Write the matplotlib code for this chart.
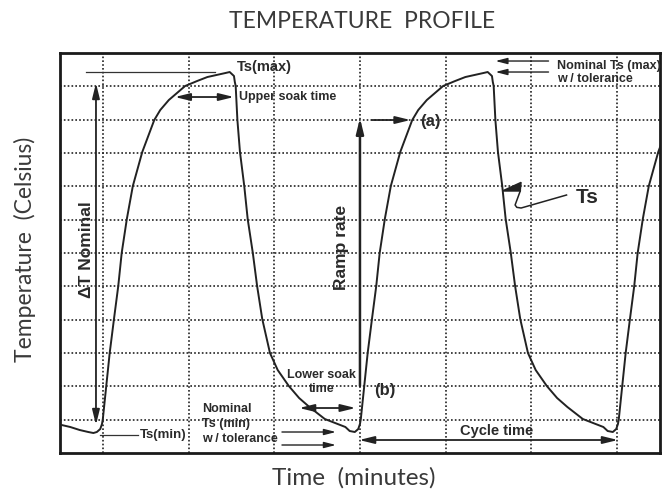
import matplotlib
matplotlib.use("Agg")
import matplotlib.pyplot as plt

# temperature profile (x and y in grid units)
time_pts = [0.02, 0.12, 0.23, 0.33, 0.39, 0.43, 0.47, 0.49, 0.50, 0.54, 0.58, 0.63,
            0.68, 0.72, 0.78, 0.85, 0.96, 1.10, 1.17, 1.27, 1.46, 1.60, 1.72, 1.93,
            1.98, 2.03, 2.04, 2.05, 2.07, 2.10, 2.15, 2.19, 2.25, 2.30, 2.36, 2.45,
            2.54, 2.67, 2.79, 2.91, 3.09, 3.33, 3.38,
            3.44, 3.48, 3.50, 3.51, 3.55, 3.59, 3.64, 3.69, 3.73, 3.79, 3.86, 3.97,
            4.11, 4.18, 4.28, 4.47, 4.61, 4.73, 4.94, 4.99, 5.04, 5.05, 5.06, 5.08,
            5.11, 5.16, 5.20, 5.26, 5.31, 5.37, 5.46, 5.55, 5.68, 5.80, 5.92, 6.10,
            6.34, 6.39,
            6.45, 6.49, 6.51, 6.52, 6.56, 6.60, 6.65, 6.70, 6.74, 6.80, 6.87, 6.98,
            7.12]
temp_pts = [0.84, 0.78, 0.69, 0.63, 0.60, 0.63, 0.72, 0.87, 1.02, 2.01, 3.00, 4.02,
            5.01, 6.00, 7.02, 8.01, 9.03, 9.99, 10.29, 10.59, 11.01, 11.16, 11.28, 11.40,
            11.43, 11.31, 11.13, 11.01, 9.99, 9.03, 8.01, 7.02, 6.00, 5.01, 4.02, 3.00,
            2.49, 2.01, 1.65, 1.38, 1.02, 0.78, 0.66,
            0.63, 0.72, 0.87, 1.02, 2.01, 3.00, 4.02, 5.01, 6.00, 7.02, 8.01, 9.03,
            9.99, 10.29, 10.59, 11.01, 11.16, 11.28, 11.40, 11.43, 11.31, 11.13, 11.01, 9.99,
            9.03, 8.01, 7.02, 6.00, 5.01, 4.02, 3.00, 2.49, 2.01, 1.65, 1.38, 1.02,
            0.78, 0.66,
            0.63, 0.72, 0.87, 1.02, 2.01, 3.00, 4.02, 5.01, 6.00, 7.02, 8.01, 9.03,
            9.99]

x_grid = [0.5, 1.5, 2.5, 3.5, 4.5, 5.5, 6.5]
y_grid = [1, 2, 3, 4, 5, 6, 7, 8, 9, 10, 11]

fig = plt.figure(figsize=(6.62, 4.90), dpi=100)
ax = fig.add_axes([0.0906, 0.0755, 0.9063, 0.8163])
ax.set_xlim(0, 7)
ax.set_ylim(0, 12)
ax.set_xticks(x_grid)
ax.set_yticks(y_grid)
ax.tick_params(length=0, labelbottom=False, labelleft=False)
ax.grid(True, color="#222222", linestyle=(0, (1, 1.3)), linewidth=1.2)
for s in ax.spines.values():
    s.set_linewidth(2)
    s.set_color("#1a1a1a")

ax.plot(time_pts, temp_pts, color="#222222", linewidth=1.4, zorder=3)

bold = dict(family="Liberation Sans", fontweight="bold", color="#2a2a2a")
arr1 = dict(arrowstyle="-|>,head_length=0.9,head_width=0.22", color="#222222",
            lw=1.3, shrinkA=0, shrinkB=0)
arr2 = dict(arrowstyle="<|-|>,head_length=0.9,head_width=0.22", color="#222222",
            lw=1.3, shrinkA=0, shrinkB=0)
arr3 = dict(arrowstyle="-|>,head_length=0.7,head_width=0.18", color="#222222",
            lw=1.0, shrinkA=0, shrinkB=0)

# Ts(max)
ax.plot([0.30, 1.81], [11.43, 11.43], color="#333333", lw=0.9)
ax.text(2.06, 11.58, "Ts(max)", fontsize=10.5, va="center", ha="left", **bold)
# upper soak time
ax.annotate("", xy=(2.03, 10.68), xytext=(1.34, 10.68), arrowprops=arr2)
ax.text(2.09, 10.68, "Upper soak time", fontsize=9, va="center", ha="left", **bold)
# delta T nominal
ax.annotate("", xy=(0.42, 11.10), xytext=(0.42, 0.84), arrowprops=arr2)
ax.text(0.31, 6.09, "ΔT Nominal", fontsize=12.5, rotation=90, va="center", ha="center", **bold)
# ramp rate
ax.annotate("", xy=(3.50, 10.05), xytext=(3.50, 2.01),
            arrowprops=dict(arr1, lw=1.8))
ax.text(3.28, 6.18, "Ramp rate", fontsize=12.5, rotation=90, va="center", ha="center", **bold)
# (a) and (b)
ax.annotate("", xy=(4.09, 9.99), xytext=(3.64, 9.99), arrowprops=arr1)
ax.text(4.20, 9.96, "(a)", fontsize=12, va="center", ha="left", **bold)
ax.text(3.66, 1.89, "(b)", fontsize=12, va="center", ha="left", **bold)
# lower soak time
ax.text(3.05, 2.13, "Lower soak\ntime", fontsize=9, va="center", ha="center",
        linespacing=1.25, **bold)
ax.annotate("", xy=(3.45, 1.35), xytext=(2.79, 1.35), arrowprops=arr2)
# nominal Ts(min)
ax.text(1.66, 0.87, "Nominal\nTs (min)\nw / tolerance", fontsize=9, va="center",
        ha="left", linespacing=1.3, **bold)
ax.annotate("", xy=(3.22, 0.63), xytext=(2.59, 0.63), arrowprops=arr3)
ax.annotate("", xy=(3.22, 0.24), xytext=(2.59, 0.24), arrowprops=arr3)
# Ts(min)
ax.plot([0.47, 0.91], [0.54, 0.54], color="#333333", lw=0.9)
ax.text(0.93, 0.54, "Ts(min)", fontsize=9.5, va="center", ha="left", **bold)
# cycle time
ax.annotate("", xy=(6.51, 0.39), xytext=(3.49, 0.39), arrowprops=arr2)
ax.text(5.09, 0.66, "Cycle time", fontsize=10.5, va="center", ha="center", **bold)
# nominal Ts(max)
ax.text(5.80, 11.42, "Nominal Ts (max)\nw / tolerance", fontsize=9, va="center",
        ha="left", linespacing=1.15, **bold)
ax.annotate("", xy=(5.08, 11.76), xytext=(5.70, 11.76), arrowprops=arr3)
ax.annotate("", xy=(5.08, 11.43), xytext=(5.70, 11.43), arrowprops=arr3)
# Ts leader
ax.fill([5.16, 5.38, 5.37], [7.86, 8.12, 7.86], color="#222222", zorder=4)
ax.plot([5.37, 5.31, 5.33, 5.38, 5.91], [7.86, 7.44, 7.37, 7.35, 7.74],
        color="#222222", lw=1.1)
ax.text(6.02, 7.68, "Ts", fontsize=15, va="center", ha="left", **bold)

light = dict(family="Lato", fontweight="normal", color="#3a3a3a")
fig.text(0.547, 0.957, "TEMPERATURE  PROFILE", fontsize=16.5, ha="center", va="center", **light)
fig.text(0.038, 0.492, "Temperature  (Celsius)", fontsize=16.5, rotation=90,
         ha="center", va="center", **light)
fig.text(0.535, 0.024, "Time  (minutes)", fontsize=17.5, ha="center", va="center", **light)

fig.savefig("out.png", dpi=100)
